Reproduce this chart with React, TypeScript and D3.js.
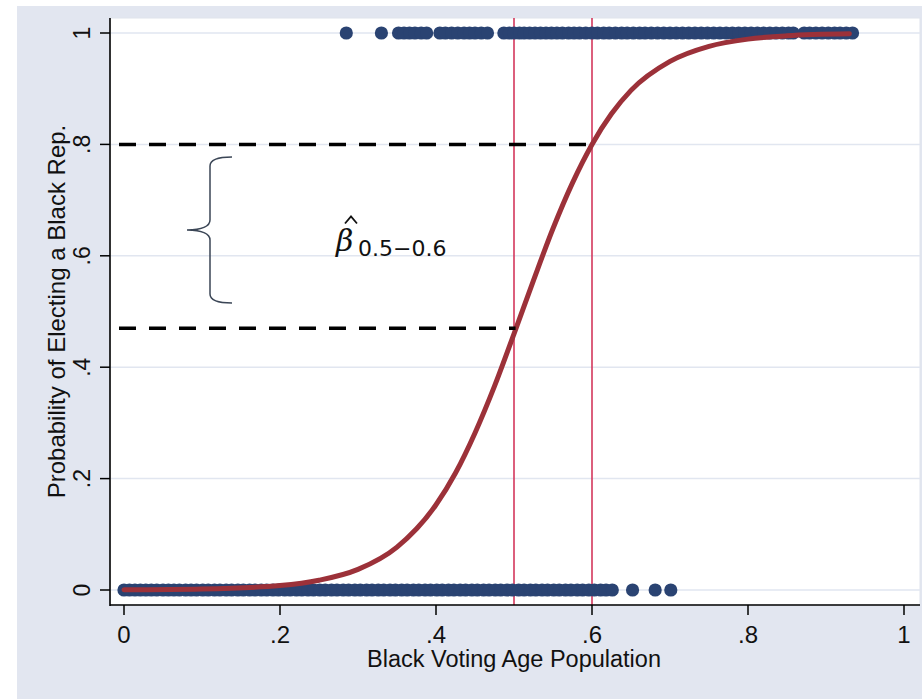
import React from "react";
import * as d3 from "d3";

// y = 1 observations (districts that elected a black rep.)
const electedX = [
  0.285, 0.33,
  0.352, 0.359, 0.366, 0.373, 0.381, 0.388,
  0.405, 0.412, 0.42, 0.428, 0.436, 0.443, 0.45, 0.458, 0.466,
  0.487, 0.494, 0.5, 0.507, 0.513, 0.52, 0.527, 0.534, 0.541, 0.548, 0.555, 0.562, 0.57,
  0.577, 0.584, 0.592, 0.6, 0.607, 0.615, 0.622, 0.63, 0.638, 0.645, 0.653, 0.661, 0.668,
  0.676, 0.684, 0.692, 0.7, 0.708, 0.716, 0.724, 0.732, 0.74, 0.748, 0.756, 0.764, 0.772,
  0.78, 0.788, 0.796, 0.804, 0.812, 0.82, 0.828, 0.836, 0.844, 0.852, 0.858,
  0.872, 0.879, 0.887, 0.895, 0.903, 0.911, 0.918, 0.926, 0.934,
];

// y = 0 observations
const notElectedX = [
  0, 0.007, 0.014, 0.021, 0.028, 0.035, 0.042, 0.05, 0.057, 0.064, 0.071, 0.079, 0.086,
  0.093, 0.101, 0.108, 0.116, 0.123, 0.131, 0.138, 0.146, 0.153, 0.161, 0.168, 0.176,
  0.183, 0.191, 0.198, 0.206, 0.213, 0.221, 0.228, 0.236, 0.243, 0.251, 0.258, 0.266,
  0.273, 0.281, 0.288, 0.296, 0.303, 0.311, 0.318, 0.326, 0.333, 0.341, 0.348, 0.356,
  0.363, 0.371, 0.378, 0.386, 0.393, 0.401, 0.408, 0.416, 0.423, 0.431, 0.438, 0.446,
  0.453, 0.461, 0.468, 0.476, 0.483, 0.491, 0.498, 0.506, 0.513, 0.521, 0.528, 0.536,
  0.543, 0.551, 0.558, 0.566, 0.573, 0.581, 0.588, 0.596, 0.603, 0.611, 0.618, 0.626,
  0.652, 0.681, 0.701,
];

// fitted probability curve
const fitX = [0, 0.1, 0.2, 0.25, 0.3, 0.35, 0.4, 0.425, 0.45, 0.475, 0.5, 0.525, 0.55, 0.575, 0.6, 0.625, 0.65, 0.7, 0.75, 0.8, 0.85, 0.93];
const fitY = [0.0004, 0.0018, 0.008, 0.0175, 0.037, 0.077, 0.153, 0.21, 0.282, 0.366, 0.46, 0.556, 0.649, 0.731, 0.8, 0.855, 0.897, 0.949, 0.976, 0.989, 0.995, 0.9985];

const ticks = [0, 0.2, 0.4, 0.6, 0.8, 1];
const tickLabels = ["0", ".2", ".4", ".6", ".8", "1"];

const markerX = [0.5, 0.6];
const dashedLevels = [0.8, 0.47];
const dashedEnds = [0.593, 0.502];

const W = 922;
const H = 699;
const font = "'Liberation Sans', Arial, sans-serif";

export default function App() {
  const x = d3.scaleLinear().domain([0, 1]).range([124, 904]);
  const y = d3.scaleLinear().domain([0, 1]).range([590, 33]);

  const plot = { left: 110, top: 18, right: 920, bottom: 605 };

  const line = d3
    .line<number>()
    .x((d) => x(d))
    .y((_, i) => y(fitY[i]))
    .curve(d3.curveMonotoneX);

  const dotColor = "#2a4372";

  return (
    <svg width={W} height={H} style={{ position: "absolute", left: 0, top: 0, display: "block" }}>
      <style>{`body{margin:0}`}</style>
      <rect x={0} y={0} width={W} height={H} fill="#ffffff" />
      <rect x={17} y={6} width={W - 17} height={H - 6} fill="#e2e6f0" />
      <rect
        x={plot.left}
        y={plot.top}
        width={plot.right - plot.left}
        height={plot.bottom - plot.top}
        fill="#ffffff"
        stroke="#dfe3ec"
        strokeWidth={1}
      />

      {/* grid */}
      {ticks.map((t) => (
        <line key={"g" + t} x1={plot.left} x2={plot.right} y1={y(t)} y2={y(t)} stroke="#e1e6f0" strokeWidth={1.5} />
      ))}

      {/* reference verticals */}
      {markerX.map((m) => (
        <line key={"m" + m} x1={x(m)} x2={x(m)} y1={plot.top} y2={plot.bottom} stroke="#d4375c" strokeWidth={1.6} />
      ))}

      {/* points */}
      {electedX.map((v, i) => (
        <circle key={"e" + i} cx={x(v)} cy={y(1)} r={6.6} fill={dotColor} />
      ))}
      {notElectedX.map((v, i) => (
        <circle key={"n" + i} cx={x(v)} cy={y(0)} r={6.6} fill={dotColor} />
      ))}

      {/* fitted curve */}
      <path d={line(fitX) || ""} fill="none" stroke="#9c3139" strokeWidth={5} strokeLinecap="round" />

      {/* dashed guide lines */}
      {dashedLevels.map((lv, i) => (
        <line
          key={"d" + i}
          x1={119}
          x2={x(dashedEnds[i])}
          y1={y(lv)}
          y2={y(lv)}
          stroke="#000"
          strokeWidth={3.5}
          strokeDasharray="17 13"
        />
      ))}

      {/* brace */}
      <path
        d="M232,157 Q210,157 210,166 L210,220 Q210,229.5 187,230 Q210,230.5 210,240 L210,294 Q210,303 232,303"
        fill="none"
        stroke="#3b4656"
        strokeWidth={1.5}
      />

      {/* beta-hat label */}
      <text x={336} y={251} fontFamily="'DejaVu Serif', serif" fontStyle="italic" fontSize={30} fill="#111">
        β
      </text>
      <path d="M345,223.5 L351,216.5 L357,223.5" fill="none" stroke="#111" strokeWidth={1.8} />
      <text x={358} y={256} fontFamily="'DejaVu Sans', sans-serif" fontSize={22} fill="#111">
        0.5−0.6
      </text>

      {/* axes */}
      <line x1={plot.left} x2={plot.left} y1={plot.top} y2={plot.bottom + 1} stroke="#000" strokeWidth={1.6} />
      <line x1={plot.left} x2={plot.right} y1={plot.bottom} y2={plot.bottom} stroke="#000" strokeWidth={1.6} />

      {ticks.map((t, i) => (
        <g key={"yt" + t}>
          <line x1={plot.left - 10} x2={plot.left} y1={y(t)} y2={y(t)} stroke="#000" strokeWidth={1.5} />
          <text
            x={90}
            y={y(t)}
            transform={`rotate(-90, 90, ${y(t)})`}
            textAnchor="middle"
            fontFamily={font}
            fontSize={23}
            fill="#111"
          >
            {tickLabels[i]}
          </text>
        </g>
      ))}

      {ticks.map((t, i) => (
        <g key={"xt" + t}>
          <line x1={x(t)} x2={x(t)} y1={plot.bottom} y2={plot.bottom + 10} stroke="#000" strokeWidth={1.5} />
          <text x={x(t)} y={643} textAnchor="middle" fontFamily={font} fontSize={24} fill="#111">
            {tickLabels[i]}
          </text>
        </g>
      ))}

      <text x={x(0.5)} y={667} textAnchor="middle" fontFamily={font} fontSize={23.5} fill="#111">
        Black Voting Age Population
      </text>
      <text
        x={65}
        y={y(0.5)}
        transform={`rotate(-90, 65, ${y(0.5)})`}
        textAnchor="middle"
        fontFamily={font}
        fontSize={24}
        fill="#111"
      >
        Probability of Electing a Black Rep.
      </text>
    </svg>
  );
}
